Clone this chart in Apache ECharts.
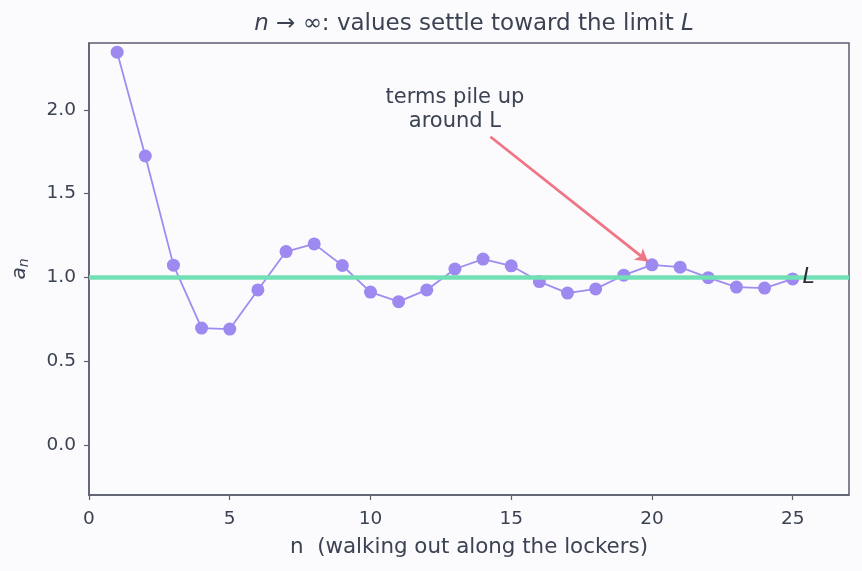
<!DOCTYPE html>
<html>
<head>
<meta charset="utf-8">
<script src="https://cdn.jsdelivr.net/npm/echarts@6/dist/echarts.min.js"></script>
<style>
  html, body { margin: 0; padding: 0; background: #fbfbfe; }
  #chart { width: 862px; height: 571px; }
</style>
</head>
<body>
<div id="chart"></div>
<script>
  // sequence terms a_n
  var nValues = [1, 2, 3, 4, 5, 6, 7, 8, 9, 10, 11, 12, 13, 14, 15, 16, 17, 18, 19, 20, 21, 22, 23, 24, 25]
  var aValues = [2.345, 1.725, 1.073, 0.697, 0.691, 0.925, 1.154, 1.2, 1.071, 0.912, 0.855, 0.925, 1.05, 1.109, 1.069,
    0.975, 0.906, 0.931, 1.013, 1.075, 1.061, 0.998, 0.942, 0.936, 0.991]
  var limitL = 1.0
  var xTicks = [0, 5, 10, 15, 20, 25]
  var yTicks = [0.0, 0.5, 1.0, 1.5, 2.0]
  // annotation (data coords)
  var noteText = 'terms pile up\naround L'
  var notePos = [13.0, 2.0]
  var arrowFrom = [14.26, 1.84]
  var arrowTo = [19.85, 1.095]

  var fontFam = 'DejaVu Sans'
  var textColor = '#3b4252'
  var axisColor = '#5b5f6e'

  var chart = echarts.init(document.getElementById('chart'))
  var option = {
    backgroundColor: '#fbfbfe',
    animation: false,
    title: {
      text: '{i|n}{r| → ∞: values settle toward the limit }{i|L}',
      left: 469,
      textAlign: 'center',
      top: 8,
      textStyle: {
        fontWeight: 'normal',
        rich: {
          i: { fontFamily: fontFam, fontSize: 23, fontStyle: 'italic', fontWeight: 'normal', color: textColor },
          r: { fontFamily: fontFam, fontSize: 23, fontWeight: 'normal', color: textColor },
        },
      },
    },
    grid: {
      left: 89,
      right: 13,
      top: 43,
      bottom: 76,
      show: true,
      borderColor: axisColor,
      borderWidth: 1.5,
      backgroundColor: 'transparent',
    },
    xAxis: {
      type: 'value',
      min: 0,
      max: 27,
      name: 'n  (walking out along the lockers)',
      nameLocation: 'middle',
      nameGap: 42,
      nameTextStyle: { fontFamily: fontFam, fontSize: 21.4, color: textColor },
      axisLine: { show: true, onZero: false, lineStyle: { color: axisColor, width: 1.5 } },
      axisTick: { show: true, length: 5, customValues: xTicks, lineStyle: { color: axisColor, width: 1.2 } },
      axisLabel: {
        fontFamily: fontFam,
        fontSize: 18.5,
        color: textColor,
        margin: 15,
        customValues: xTicks,
      },
      splitLine: { show: false },
    },
    yAxis: {
      type: 'value',
      min: -0.3,
      max: 2.4,
      name: '{a|a}{n|n}',
      nameLocation: 'middle',
      nameRotate: 90,
      nameGap: 58,
      nameTextStyle: {
        rich: {
          a: { fontFamily: fontFam, fontSize: 20, fontStyle: 'italic', color: textColor },
          n: { fontFamily: fontFam, fontSize: 14, fontStyle: 'italic', color: textColor, verticalAlign: 'bottom', padding: [8, 0, 0, 0] },
        },
      },
      axisLine: { show: true, onZero: false, lineStyle: { color: axisColor, width: 1.5 } },
      axisTick: { show: true, length: 5, customValues: yTicks, lineStyle: { color: axisColor, width: 1.2 } },
      axisLabel: {
        fontFamily: fontFam,
        fontSize: 18.5,
        color: textColor,
        margin: 13,
        customValues: yTicks,
        formatter: function (v) {
          return v.toFixed(1)
        },
      },
      splitLine: { show: false },
    },
    series: [
      {
        // limit line L
        type: 'line',
        data: [],
        z: 1,
        markLine: {
          silent: true,
          symbol: ['none', 'none'],
          label: { show: false },
          lineStyle: { color: '#72e0b4', width: 4.5, type: 'solid' },
          data: [{ yAxis: limitL }],
        },
        markPoint: {
          silent: true,
          symbol: 'rect',
          symbolSize: 0,
          data: [{ coord: [25.35, limitL] }],
          label: {
            show: true,
            position: 'right',
            distance: 0,
            formatter: 'L',
            fontFamily: fontFam,
            fontStyle: 'italic',
            fontSize: 22,
            color: '#2b2f3a',
          },
        },
      },
      {
        type: 'line',
        z: 3,
        data: nValues.map(function (n, i) {
          return [n, aValues[i]]
        }),
        symbol: 'circle',
        symbolSize: 13,
        showAllSymbol: true,
        lineStyle: { color: '#a08cf0', width: 1.8 },
        itemStyle: { color: '#9d89f0' },
        markLine: {
          silent: true,
          symbol: ['none', 'arrow'],
          symbolSize: [11, 12],
          label: { show: false },
          lineStyle: { color: '#f07584', width: 2.8, type: 'solid' },
          data: [[{ coord: arrowFrom }, { coord: arrowTo }]],
        },
        markPoint: {
          silent: true,
          symbol: 'rect',
          symbolSize: 0,
          data: [{ coord: notePos }],
          label: {
            show: true,
            position: 'inside',
            formatter: noteText,
            align: 'center',
            verticalAlign: 'middle',
            fontFamily: fontFam,
            fontSize: 21,
            lineHeight: 24,
            color: textColor,
          },
        },
      },
    ],
  }
  chart.setOption(option)
</script>
</body>
</html>
